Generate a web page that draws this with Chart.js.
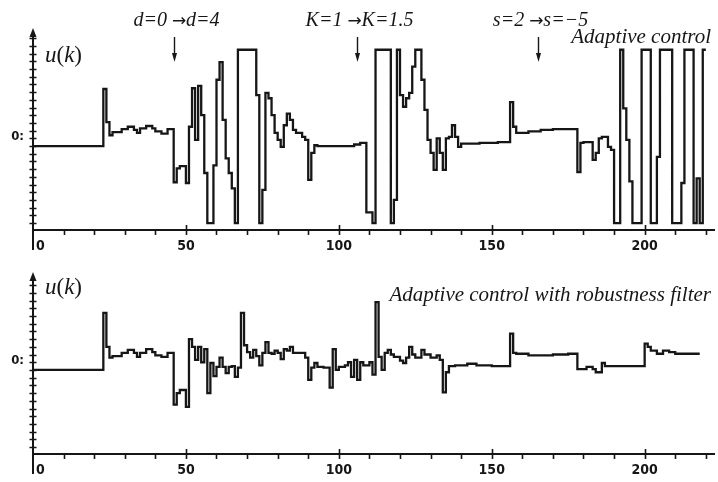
<!DOCTYPE html>
<html>
<head>
<meta charset="utf-8">
<script src="https://cdn.jsdelivr.net/npm/chart.js@4/dist/chart.umd.min.js"></script>
<style>
  html, body { margin: 0; padding: 0; background: #fff; }
  canvas { position: absolute; left: 0; }
</style>
</head>
<body>
<canvas id="adaptive" width="718" height="256" style="top:0"></canvas>
<canvas id="filtered" width="718" height="226" style="top:256px"></canvas>
<script>
// control signal u(k), adaptive control (value holds until next k)
const adaptiveK = [0, 23, 24, 25, 26, 29, 31, 33, 34, 35, 37, 39, 40, 42, 44, 46, 47, 48, 50, 51,
  52, 53, 54, 55, 56, 57, 59, 60, 61, 62, 63, 64, 65, 66, 67, 73, 74, 75, 76, 77,
  78, 79, 80, 81, 82, 83, 84, 85, 86, 88, 89, 90, 91, 92, 93, 100, 105, 107, 109, 111,
  112, 117, 118, 119, 120, 121, 122, 123, 124, 125, 127, 128, 129, 130, 131, 132, 133, 134, 135, 136,
  137, 138, 139, 140, 146, 152, 156, 157, 158, 162, 166, 170, 178, 179, 180, 183, 184, 185, 186, 188,
  189, 190, 192, 193, 194, 195, 196, 199, 202, 204, 205, 209, 212, 213, 216, 217, 218, 219, 220]
const adaptiveU = [0, 0.74, 0.31, 0.14, 0.18, 0.22, 0.25, 0.21, 0.17, 0.23, 0.26, 0.23, 0.19, 0.16, 0.22, -0.47, -0.29, -0.26, -0.48, 0.25,
  0.75, 0.08, 0.78, 0.40, -0.35, -1.0, -0.25, 0.86, 1.09, 0.34, -0.16, -0.35, -0.55, -1.0, 1.25, 0.66, -1.0, -0.57, 0.69, 0.62,
  0.40, 0.17, 0.08, -0.01, 0.27, 0.42, 0.34, 0.21, 0.17, 0.12, 0.08, -0.44, -0.09, 0.01, 0.0, 0.0, 0.02, 0.04, -0.86, -1.0,
  1.25, -1.0, -0.70, 1.25, 0.66, 0.51, 0.62, 0.69, 1.03, 1.25, 0.86, 0.47, 0.08, -0.09, -0.31, 0.10, -0.09, -0.31, 0.10, 0.12,
  0.27, 0.12, -0.01, 0.03, 0.04, 0.05, 0.57, 0.25, 0.17, 0.19, 0.21, 0.22, -0.34, 0.04, 0.05, -0.18, -0.09, 0.10, 0.12, -0.01,
  -0.05, -1.0, 1.25, 0.49, 0.08, -0.46, -1.0, 1.25, -1.0, -0.14, 1.25, -1.0, -0.48, 1.25, -1.0, -0.42, -1.0, 1.25, 1.25]

// control signal u(k), adaptive control with robustness filter
const filteredK = [0, 23, 24, 25, 26, 29, 31, 33, 34, 35, 37, 39, 40, 42, 44, 46, 47, 48, 50, 51,
  52, 53, 54, 55, 56, 57, 58, 59, 60, 61, 62, 63, 64, 65, 66, 67, 68, 69, 70, 71,
  72, 73, 74, 75, 76, 77, 78, 79, 80, 81, 82, 83, 84, 85, 89, 90, 91, 92, 93, 95,
  97, 98, 99, 100, 102, 103, 104, 105, 106, 107, 108, 110, 111, 112, 113, 114, 115, 116, 117, 118,
  120, 121, 122, 123, 124, 125, 127, 128, 130, 132, 133, 134, 135, 136, 138, 142, 145, 150, 156, 157,
  158, 162, 170, 175, 178, 181, 183, 184, 186, 187, 200, 201, 202, 204, 206, 208, 210, 218]
const filteredU = [0, 0.74, 0.30, 0.16, 0.18, 0.22, 0.26, 0.22, 0.17, 0.22, 0.27, 0.23, 0.19, 0.17, 0.22, -0.45, -0.30, -0.26, -0.48, 0.40,
  0.30, 0.13, 0.30, 0.10, 0.27, -0.30, 0.09, -0.08, 0.04, 0.16, 0.04, -0.04, 0.04, 0.05, -0.09, 0.03, 0.74, 0.32, 0.23, 0.16,
  0.26, 0.18, 0.06, 0.22, 0.36, 0.22, 0.21, 0.25, 0.22, 0.14, 0.27, 0.25, 0.30, 0.22, 0.16, -0.13, 0.03, 0.09, 0.04, 0.03,
  -0.23, 0.27, 0.0, 0.04, 0.06, 0.10, -0.09, 0.13, -0.13, 0.10, 0.06, 0.10, -0.06, 0.88, 0.17, 0.0, 0.22, 0.26, 0.20, 0.17,
  0.12, 0.09, 0.16, 0.30, 0.20, 0.16, 0.26, 0.20, 0.16, 0.19, 0.13, -0.29, -0.03, 0.05, 0.06, 0.08, 0.06, 0.05, 0.47, 0.22,
  0.21, 0.19, 0.20, 0.21, 0.01, 0.04, 0.01, -0.03, 0.09, 0.05, 0.34, 0.30, 0.25, 0.21, 0.25, 0.23, 0.21, 0.21]

const kLabels = [0, 50, 100, 150, 200]
const eventK = [46, 106, 165]
const eventFrom = ['d=0', 'K=1', 's=2']
const eventTo = ['d=4', 'K=1.5', 's=\u22125']

const ink = '#161616'
const serif = '"Liberation Serif", "Times New Roman", serif'
const numFont = 'bold 14px "DejaVu Sans Condensed", "Liberation Sans Narrow", sans-serif'

// italic u and k, upright parentheses
function drawUk(ctx, x, y) {
  const parts = [['u', 'italic'], ['(', 'normal'], ['k', 'italic'], [')', 'normal']]
  parts.forEach(([t, st]) => {
    ctx.font = st + ' 23px ' + serif
    ctx.fillText(t, x, y)
    x += ctx.measureText(t).width
  })
}

// "from -> to" centred on cx, with a wider arrow glyph
function drawEvent(ctx, from, to, cx, y) {
  const parts = [[from + ' ', 'italic 20px ' + serif], ['\u2192', '17px "DejaVu Sans", sans-serif'], [to, 'italic 20px ' + serif]]
  let w = 0
  parts.forEach(([t, f]) => { ctx.font = f; w += ctx.measureText(t).width })
  let x = cx - w / 2
  ctx.textAlign = 'left'
  parts.forEach(([t, f]) => {
    ctx.font = f
    ctx.fillText(t, x, y)
    x += ctx.measureText(t).width
  })
}

const axesPlugin = {
  id: 'axes',
  afterDraw(chart, args, opts) {
    const {ctx, chartArea: a, scales: {x, y}} = chart
    const x0 = x.getPixelForValue(0)
    const yb = y.getPixelForValue(y.min)
    ctx.save()
    ctx.strokeStyle = ink
    ctx.fillStyle = ink
    ctx.lineWidth = 2
    ctx.beginPath()
    ctx.moveTo(x0, yb)
    ctx.lineTo(a.right, yb)
    ctx.moveTo(x0, a.top + 6)
    ctx.lineTo(x0, yb + 20)
    ctx.stroke()
    // arrow head of the u axis
    ctx.beginPath()
    ctx.moveTo(x0, a.top)
    ctx.lineTo(x0 - 3.5, a.top + 9)
    ctx.lineTo(x0 + 3.5, a.top + 9)
    ctx.closePath()
    ctx.fill()

    ctx.lineWidth = 1.6
    ctx.beginPath()
    for (let v = -1.0; v < y.max - 0.12; v += 0.1) {
      const py = Math.round(y.getPixelForValue(v)) + 0.5
      ctx.moveTo(x0 - 3.5, py)
      ctx.lineTo(x0 + 3.5, py)
    }
    for (let k = 10; k <= 220; k += 10) {
      const px = Math.round(x.getPixelForValue(k)) + 0.5
      const major = k % 50 === 0
      ctx.moveTo(px, major ? yb - 5 : yb)
      ctx.lineTo(px, yb + 5)
    }
    ctx.stroke()

    ctx.font = numFont
    ctx.textBaseline = 'top'
    kLabels.forEach(k => {
      ctx.textAlign = k === 0 ? 'left' : 'center'
      const px = x.getPixelForValue(k) + (k === 0 ? 3 : 0)
      ctx.fillText(String(k), px, yb + 9)
    })
    ctx.font = 'bold 13px "DejaVu Sans Condensed", sans-serif'
    ctx.textAlign = 'right'
    ctx.textBaseline = 'middle'
    ctx.fillText('0:', x0 - 9, y.getPixelForValue(0.12))

    ctx.textAlign = 'left'
    ctx.textBaseline = 'alphabetic'
    drawUk(ctx, 45, opts.ukY)

    ctx.font = 'italic 21px ' + serif
    ctx.textAlign = 'right'
    ctx.fillText(opts.title, 711, opts.titleY)

    if (opts.events) {
      eventK.forEach((k, i) => {
        const px = Math.round(x.getPixelForValue(k)) + 0.5
        drawEvent(ctx, eventFrom[i], eventTo[i], px + 2, 26)
        ctx.lineWidth = 1.4
        ctx.beginPath()
        ctx.moveTo(px, 37)
        ctx.lineTo(px, 56)
        ctx.stroke()
        ctx.beginPath()
        ctx.moveTo(px, 62)
        ctx.lineTo(px - 2.5, 53)
        ctx.lineTo(px + 2.5, 53)
        ctx.closePath()
        ctx.fill()
      })
    }
    ctx.restore()
  }
}

function makeChart(id, ks, us, yMin, yMax, pad, opts) {
  return new Chart(document.getElementById(id), {
    type: 'line',
    data: {
      datasets: [{
        data: ks.map((k, i) => ({x: k, y: us[i]})),
        stepped: true,
        borderColor: ink,
        borderWidth: 2.3,
        pointRadius: 0,
        fill: false
      }]
    },
    options: {
      responsive: false,
      animation: false,
      devicePixelRatio: 1,
      layout: {padding: pad},
      plugins: {legend: {display: false}, tooltip: {enabled: false}, axes: opts},
      scales: {
        x: {type: 'linear', min: 0, max: 223, display: false},
        y: {min: yMin, max: yMax, display: false}
      }
    },
    plugins: [axesPlugin]
  })
}

makeChart('adaptive', adaptiveK, adaptiveU, -1.09, 1.532,
  {left: 33, right: 3, top: 28, bottom: 26},
  {title: 'Adaptive control', titleY: 43, ukY: 62, events: true})
makeChart('filtered', filteredK, filteredU, -1.09, 1.27,
  {left: 33, right: 3, top: 16, bottom: 28},
  {title: 'Adaptive control with robustness filter', titleY: 45, ukY: 38, events: false})
</script>
</body>
</html>
